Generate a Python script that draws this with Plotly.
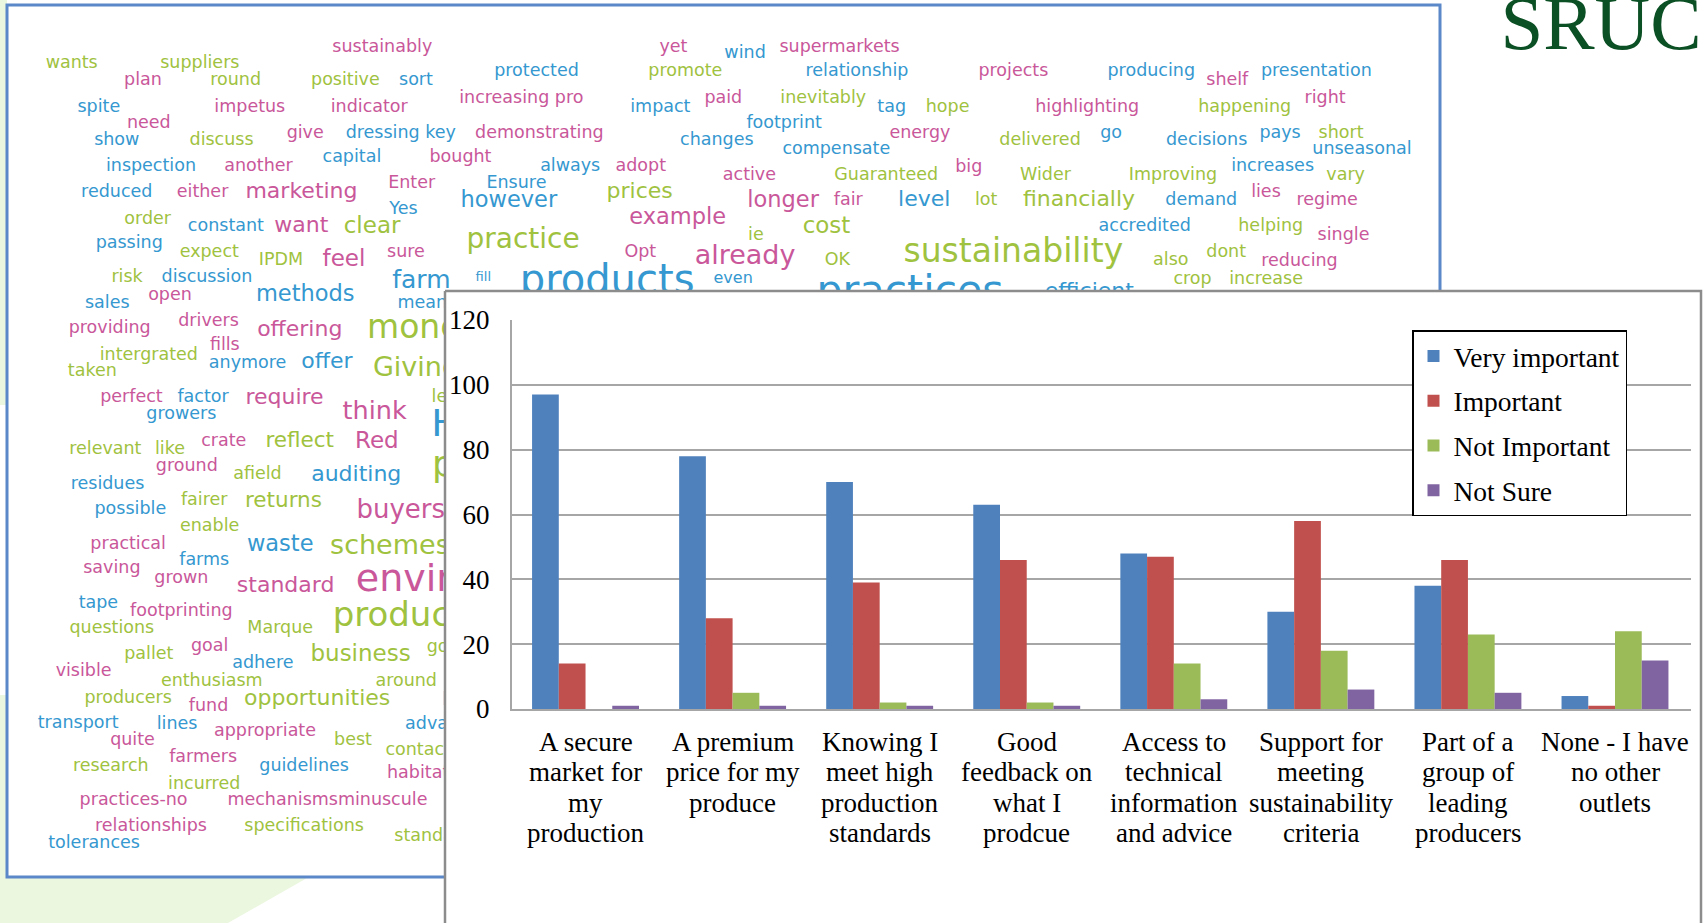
import plotly.graph_objects as go

# ---------------- chart data ----------------
CATEGORY_LINES = [
    ["A secure", "market for", "my", "production"],
    ["A premium", "price for my", "produce"],
    ["Knowing I", "meet high", "production", "standards"],
    ["Good", "feedback on", "what I", "prodcue"],
    ["Access to", "technical", "information", "and advice"],
    ["Support for", "meeting", "sustainability", "criteria"],
    ["Part of a", "group of", "leading", "producers"],
    ["None - I have", "no other", "outlets"],
]
CATEGORIES = [" ".join(lines) for lines in CATEGORY_LINES]

SERIES_NAMES = ["Very important", "Important", "Not Important", "Not Sure"]
VERY_IMPORTANT = [97, 78, 70, 63, 48, 30, 38, 4]
IMPORTANT = [14, 28, 39, 46, 47, 58, 46, 1]
NOT_IMPORTANT = [0, 5, 2, 2, 14, 18, 23, 24]
NOT_SURE = [1, 1, 1, 1, 3, 6, 5, 15]
SERIES_VALUES = [VERY_IMPORTANT, IMPORTANT, NOT_IMPORTANT, NOT_SURE]
SERIES_COLORS = ["#4f81bd", "#c0504d", "#9bbb59", "#8064a2"]
Y_TICKS = [0, 20, 40, 60, 80, 100, 120]

# ---------------- decorative word cloud (slide background) ----------------
S = 17.5
WORD_CLOUD = [
    ("sustainably", 352, 43.6, S, "p"), ("yet", 620, 43.6, S, "p"), ("wind", 686, 49.7, S, "b"),
    ("supermarkets", 773, 43.6, S, "p"), ("wants", 66, 59, S, "g"), ("suppliers", 184, 59, S, "g"),
    ("protected", 494, 66, S, "b"), ("promote", 631, 66, S, "g"), ("relationship", 789, 66, S, "b"),
    ("projects", 933, 66, S, "p"), ("producing", 1060, 66, S, "b"), ("shelf", 1130, 74.3, S, "p"),
    ("presentation", 1212, 66, S, "b"), ("plan", 131.6, 74.6, S, "p"), ("round", 217, 74.6, S, "g"),
    ("positive", 318, 74.6, S, "g"), ("sort", 383, 74.6, S, "b"), ("increasing pro", 480, 90.5, S, "p"),
    ("paid", 666, 90.5, S, "p"), ("inevitably", 758, 90.5, S, "g"), ("right", 1220, 90.5, S, "p"),
    ("spite", 91, 99, S, "b"), ("impetus", 230, 99, S, "p"), ("indicator", 340, 99, S, "p"),
    ("impact", 608, 99, S, "b"), ("tag", 821, 99, S, "b"), ("hope", 872.5, 99, S, "g"),
    ("highlighting", 1001, 99, S, "p"), ("happening", 1146, 99, S, "g"), ("need", 137, 114, S, "p"),
    ("footprint", 722, 114, S, "b"), ("energy", 847, 123.4, S, "p"), ("give", 281, 123, S, "p"),
    ("dressing key", 369, 123, S, "b"), ("demonstrating", 496.6, 123, S, "p"), ("go", 1023, 123.4, S, "b"),
    ("pays", 1178.6, 123.4, S, "b"), ("short", 1234.8, 123.4, S, "g"), ("show", 107.5, 129.5, S, "b"),
    ("discuss", 204, 129.5, S, "g"), ("changes", 660, 129.5, S, "b"), ("compensate", 770, 138, S, "b"),
    ("delivered", 957.6, 129.5, S, "g"), ("decisions", 1111, 129.5, S, "b"), ("unseasonal", 1254, 138, S, "b"),
    ("capital", 324, 145, S, "b"), ("bought", 424, 145, S, "p"), ("big", 892, 154, S, "p"),
    ("increases", 1171.7, 153.5, S, "b"), ("inspection", 139, 153, S, "b"), ("another", 238, 153, S, "p"),
    ("always", 525, 153, S, "b"), ("adopt", 590, 153, S, "p"), ("active", 690, 162, S, "p"),
    ("Guaranteed", 816, 162, S, "g"), ("Wider", 962.6, 162, S, "g"), ("Improving", 1080, 162, S, "g"),
    ("vary", 1239, 162, S, "g"), ("Enter", 379, 169, S, "p"), ("Ensure", 475.5, 169, S, "b"),
    ("reduced", 107.5, 177.5, S, "b"), ("either", 186.5, 177.5, S, "p"), ("marketing", 277.6, 177.5, 22, "p"),
    ("prices", 589, 177.5, 22, "g"), ("lies", 1165.6, 177.5, S, "p"), ("however", 468.5, 185, 22.5, "b"),
    ("longer", 721, 185, 22.5, "p"), ("fair", 781, 185, S, "p"), ("level", 851, 185, 22, "b"),
    ("lot", 908, 185, S, "g"), ("financially", 993.5, 185, 22, "g"), ("demand", 1106, 185, S, "b"),
    ("regime", 1222, 185, S, "p"), ("Yes", 371.5, 193, S, "b"), ("order", 136, 202, S, "g"),
    ("example", 624, 200.8, 22.5, "p"), ("constant", 208, 209, S, "b"), ("want", 277.5, 209, 22, "p"),
    ("clear", 342.6, 209, 23, "g"), ("cost", 761, 209, 23, "g"), ("accredited", 1054, 209, S, "b"),
    ("helping", 1170, 209, S, "g"), ("ie", 696, 217, S, "g"), ("single", 1237, 217, S, "p"),
    ("practice", 481.6, 221.6, 28, "g"), ("passing", 119, 224.7, S, "b"), ("expect", 192.7, 233, S, "g"),
    ("IPDM", 258.7, 240, S, "g"), ("feel", 316.7, 239.4, 23, "p"), ("sure", 373.8, 233, S, "p"),
    ("Opt", 589.6, 233, S, "p"), ("already", 686, 236.6, 27, "p"), ("OK", 771, 240, S, "g"),
    ("sustainability", 933, 234, 33, "g"), ("also", 1078, 240, S, "g"), ("dont", 1129, 233, S, "g"),
    ("reducing", 1196.5, 241, S, "p"), ("risk", 117, 256, S, "g"), ("discussion", 190.5, 256, S, "b"),
    ("farm", 388, 259.5, 25, "b"), ("fill", 445, 256, 13, "b"), ("products", 559, 260.6, 40, "b"),
    ("even", 675, 256.5, 16, "b"), ("practices", 838, 270, 41, "b"), ("efficient", 1003, 269, 22, "b"),
    ("crop", 1098, 257, S, "g"), ("increase", 1165.7, 257, S, "g"), ("sales", 98.8, 280, S, "b"),
    ("open", 156.5, 272.5, S, "p"), ("methods", 281, 271.6, 22.5, "b"), ("means", 393, 280, S, "b"),
    ("providing", 101, 303, S, "p"), ("drivers", 192, 296.5, S, "p"), ("offering", 276, 304, 22, "p"),
    ("money", 390, 304, 33, "g"), ("fills", 207, 318.6, S, "p"), ("intergrated", 137, 327.6, S, "g"),
    ("taken", 85, 342, S, "g"), ("anymore", 228, 335, S, "b"), ("offer", 301, 334, 22, "b"),
    ("Giving", 383, 340, 27, "g"), ("perfect", 121, 366.5, S, "p"), ("factor", 187, 366, S, "b"),
    ("require", 262, 367, 22, "p"), ("growers", 167, 382, S, "b"), ("think", 345, 379.5, 25.5, "p"),
    ("less", 413, 366.5, S, "g"), ("Help", 437, 393, 38, "b"), ("relevant", 97, 414, S, "g"),
    ("like", 156.5, 414, S, "g"), ("crate", 206, 407, S, "p"), ("reflect", 276, 407, 21.5, "g"),
    ("Red", 347, 407, 23, "p"), ("ground", 172, 430, S, "p"), ("afield", 237, 437, S, "g"),
    ("auditing", 328, 438, 22, "b"), ("residues", 99, 446, S, "b"), ("people", 454, 430, 36, "g"),
    ("possible", 120, 469, S, "b"), ("fairer", 188, 461, S, "g"), ("returns", 261, 462, 21.5, "g"),
    ("buyers", 369, 471, 26, "p"), ("enable", 193, 485, S, "g"), ("practical", 118, 501, S, "p"),
    ("waste", 258, 502, 22.5, "b"), ("schemes", 359, 504, 27, "g"), ("farms", 188, 516.6, S, "b"),
    ("saving", 103, 524, S, "p"), ("grown", 167, 533, S, "p"), ("standard", 263, 540, 22, "p"),
    ("environment", 439, 535, 38, "p"), ("tape", 90.6, 556, S, "b"), ("footprinting", 167, 563, S, "p"),
    ("questions", 103, 579, S, "g"), ("Marque", 258, 579, S, "g"), ("produce", 370, 569, 34, "g"),
    ("pallet", 137, 603, S, "g"), ("goal", 193, 595.5, S, "p"), ("adhere", 242, 611, S, "b"),
    ("business", 332, 603, 23, "g"), ("good", 413, 596, S, "g"), ("visible", 77, 618.5, S, "p"),
    ("enthusiasm", 195, 628, S, "g"), ("around", 374, 628, S, "g"), ("producers", 118, 643.6, S, "g"),
    ("fund", 192, 651, S, "p"), ("opportunities", 292, 643.6, 22, "g"), ("local", 426, 645, S, "b"),
    ("transport", 72, 666.6, S, "b"), ("lines", 163, 667, S, "b"), ("appropriate", 244, 674, S, "p"),
    ("advantage", 416, 667, S, "b"), ("quite", 122, 682, S, "p"), ("best", 325, 682, S, "g"),
    ("contact", 385, 691.5, S, "g"), ("farmers", 187, 698, S, "p"), ("research", 102, 706, S, "g"),
    ("guidelines", 280, 706, S, "b"), ("habitat", 385, 712.6, S, "p"), ("incurred", 188, 722, S, "g"),
    ("practices-no", 123, 737.6, S, "p"), ("mechanismsminuscule", 301.5, 737.6, S, "p"),
    ("relationships", 139, 761.5, S, "p"), ("specifications", 280, 761.5, S, "g"),
    ("standards", 403, 770.6, S, "g"), ("tolerances", 86.6, 777, S, "b"),
]
CLOUD_COLORS = {"p": "#c9579a", "b": "#3598d0", "g": "#9fc23f"}

# ---------------- figure ----------------
W, H = 1703, 923
K = W / 1568.0
GRID = "#a6a6a6"
SERIF = "Liberation Serif"

fig = go.Figure()

# word cloud (bottom layer, pixel-space axes x/y)
fig.add_trace(go.Scatter(
    x=[w[1] * K for w in WORD_CLOUD],
    y=[w[2] * K for w in WORD_CLOUD],
    text=[w[0] for w in WORD_CLOUD],
    mode="text", textposition="middle center",
    textfont=dict(family="DejaVu Sans",
                  size=[w[3] for w in WORD_CLOUD],
                  color=[CLOUD_COLORS[w[4]] for w in WORD_CLOUD]),
    hoverinfo="skip", showlegend=False, xaxis="x", yaxis="y",
))

# logo text
fig.add_trace(go.Scatter(
    x=[1601], y=[30], text=["SRUC"], mode="text", textposition="middle center",
    textfont=dict(family=SERIF, size=77, color="#0b4f24"),
    hoverinfo="skip", showlegend=False, xaxis="x", yaxis="y",
))

# white chart panel covering the cloud
fig.add_trace(go.Scatter(
    x=[445, 1701, 1701, 445, 445], y=[291, 291, 935, 935, 291],
    mode="lines", fill="toself", fillcolor="white",
    line=dict(color="#8c8c8c", width=2.5),
    hoverinfo="skip", showlegend=False, xaxis="x", yaxis="y",
))

# bars
for name, vals, col in zip(SERIES_NAMES, SERIES_VALUES, SERIES_COLORS):
    fig.add_trace(go.Bar(
        x=CATEGORIES, y=vals, name=name, legendgroup=name,
        marker=dict(color=col, line=dict(width=0)),
        xaxis="x2", yaxis="y2", hoverinfo="skip",
    ))

annotations = []
for cat, lines in zip(CATEGORIES, CATEGORY_LINES):
    for i, line in enumerate(lines):
        annotations.append(dict(
            x=cat, y=0, xref="x2", yref="y2", text=line, showarrow=False,
            xanchor="center", yanchor="middle", yshift=-(33 + 30.3 * i),
            font=dict(family=SERIF, size=27, color="black"),
        ))

shapes = [
    dict(type="rect", xref="x", yref="y", x0=0, x1=7, y0=0, y1=405,
         fillcolor="#ebf7df", line=dict(width=0), layer="below"),
    dict(type="rect", xref="x", yref="y", x0=0, x1=7, y0=695, y1=923,
         fillcolor="#ebf7df", line=dict(width=0), layer="below"),
    dict(type="path", xref="x", yref="y", path="M0,878 L307,878 L228,923 L0,923 Z",
         fillcolor="#ebf7df", line=dict(width=0), layer="below"),
    dict(type="rect", xref="x", yref="y", x0=7, x1=1440, y0=5, y1=877,
         line=dict(color="#5b88c8", width=3), fillcolor="rgba(0,0,0,0)", layer="below"),
]

fig.update_layout(
    width=W, height=H, autosize=False,
    margin=dict(l=0, r=0, t=0, b=0, pad=0, autoexpand=False),
    paper_bgcolor="white", plot_bgcolor="rgba(0,0,0,0)",
    barmode="group", bargap=0.273, bargroupgap=0,
    xaxis=dict(domain=[0, 1], range=[0, W], visible=False, fixedrange=True),
    yaxis=dict(domain=[0, 1], range=[H, 0], visible=False, fixedrange=True),
    xaxis2=dict(domain=[512 / W, 1691 / W], anchor="y2", type="category",
                showticklabels=False, showgrid=False, ticks="",
                showline=True, linecolor=GRID, linewidth=2, fixedrange=True),
    yaxis2=dict(domain=[1 - 709 / H, 1 - 320 / H], anchor="x2", range=[0, 120],
                tickvals=Y_TICKS, showgrid=True, gridcolor=GRID, gridwidth=2,
                showline=True, linecolor=GRID, linewidth=2, zeroline=False,
                ticks="", ticklabelstandoff=15, fixedrange=True,
                tickfont=dict(family=SERIF, size=27, color="black")),
    legend=dict(x=1412 / W, y=1 - 330 / H, xanchor="left", yanchor="top",
                bgcolor="white", bordercolor="black", borderwidth=1.5,
                font=dict(family=SERIF, size=27.5, color="black"),
                tracegroupgap=6, traceorder="grouped"),
    annotations=annotations,
    shapes=shapes,
)

fig.write_html("out.html")
